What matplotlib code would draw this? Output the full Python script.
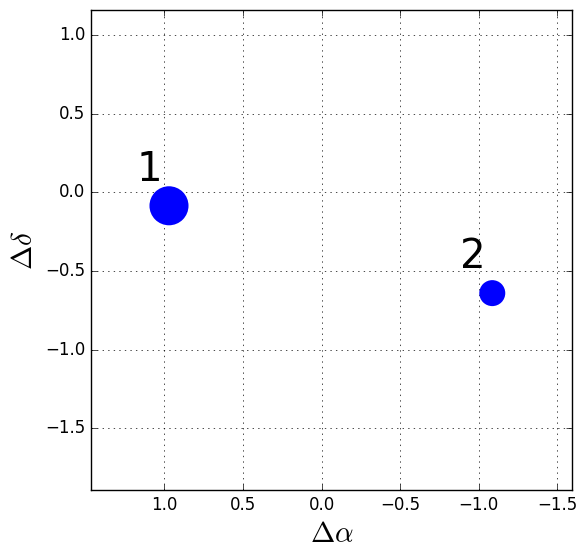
import matplotlib
matplotlib.use("Agg")
import matplotlib.pyplot as plt

plt.style.use('classic')

# data
ra_off = [0.97, -1.086]
dec_off = [-0.085, -0.64]
sizes = [790, 350]
labels = ["1", "2"]

fig = plt.figure(figsize=(5.86, 5.58), dpi=100, facecolor='white')
ax = fig.add_axes([91/586, 1-490/558, 481/586, 480/558])
ax.scatter(ra_off, dec_off, s=sizes, c='b', edgecolors='none', zorder=3)
for x, y, lab in zip(ra_off, dec_off, labels):
    ax.text(x + 0.045, y + 0.102, lab, fontsize=29, ha='right', va='bottom')

ax.set_xlim(1.466, -1.593)
ax.set_ylim(-1.891, 1.159)
ax.set_xticks([1.0, 0.5, 0.0, -0.5, -1.0, -1.5])
ax.set_yticks([1.0, 0.5, 0.0, -0.5, -1.0, -1.5])
ax.grid(True, linestyle=':', color='k')
ax.set_xlabel(r'$\Delta\alpha$', fontsize=21)
ax.set_ylabel(r'$\Delta\delta$', fontsize=21)

fig.savefig('out.png', dpi=100, facecolor='white')
